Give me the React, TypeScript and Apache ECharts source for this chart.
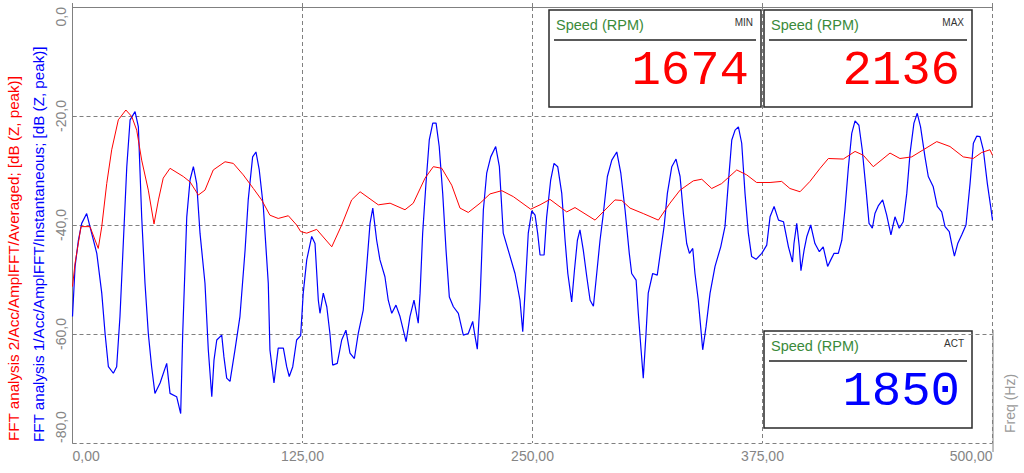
import React, { useEffect, useRef } from "react";
import * as echarts from "echarts";

const xTicks = [0, 125, 250, 375, 500];
const yTicks = [-80, -60, -40, -20, 0];

const redTitle = "FFT analysis 2/Acc/AmplFFT/Averaged; [dB (Z, peak)]";
const blueTitle = "FFT analysis 1/Acc/AmplFFT/Instantaneous; [dB (Z, peak)]";
const xTitle = "Freq (Hz)";

const redFreq = [0, 1.4, 3.2, 4.6, 9.5, 14, 15.9, 18.6, 21.3, 24.9, 29, 32.2, 34.9, 37.6, 41.2, 44.3, 46.7, 49.3, 53, 60.2, 63.9, 68.4, 72, 76.5, 82.9, 87.4, 92.8, 98.3, 102.8, 107.3, 111.8, 117.3, 121.8, 124, 127.3, 132.7, 140.9, 146.3, 151.7, 156.3, 166.2, 172.6, 180.7, 185.2, 191.6, 196.1, 200.7, 206.1, 210.6, 215.1, 221.5, 226.9, 233.3, 239.6, 249, 254.1, 259.5, 268.6, 273.1, 284, 294.8, 298.5, 303, 310.2, 318.4, 324.7, 330.2, 337.4, 342, 347.4, 352.8, 361, 366.4, 371.8, 379.1, 385.4, 389.9, 395.4, 400.8, 406.3, 410.8, 418.9, 425.3, 429.8, 435.2, 444.3, 449.7, 456.1, 462.4, 469.7, 476.9, 484.1, 489.5, 494.1, 498.6, 500];
const redDb = [-51.3, -47, -43.3, -40.3, -40.3, -44.3, -40.3, -32.4, -26.2, -20.7, -18.9, -20.1, -22.6, -28.1, -33.6, -39.8, -35.4, -31.4, -29.6, -31.1, -32.1, -34.5, -33.6, -29.9, -28.4, -28.7, -30.8, -33.3, -35.4, -38.2, -38.8, -38.3, -40, -41.2, -41.5, -40.8, -44, -40, -35.4, -33.9, -36.3, -36, -37.2, -36, -31.4, -29.3, -29.6, -32.7, -36.9, -37.7, -36, -34.3, -33.7, -34.8, -37.1, -36.3, -35.3, -37.6, -36.8, -39.1, -35.4, -35.5, -36.9, -37.9, -39.1, -36, -33.6, -31.9, -31.6, -33.3, -32.4, -29.9, -30.8, -32.2, -32.2, -32, -33.3, -33.9, -32, -29.6, -27.8, -27.9, -26.5, -27.2, -29.3, -26.8, -27.8, -27.5, -26.2, -24.7, -25.6, -27.5, -27.8, -26.7, -26.2, -27.2];

const blueFreq = [0, 1.4, 3.2, 5, 7.7, 10.4, 13.2, 15.9, 17.7, 19.5, 22.2, 24, 25.8, 27.6, 29.5, 31.3, 34, 35.8, 37.6, 39.4, 41.2, 43, 44.8, 47.6, 51.2, 53, 56.6, 58.8, 59.9, 62.1, 63.9, 65.7, 67.5, 69.3, 72, 73.8, 75.7, 76.9, 78.4, 81.1, 82.3, 83.8, 85.6, 88.3, 91, 93.8, 95.5, 97.9, 99.7, 101.5, 103.7, 106.4, 107.3, 109.5, 111.8, 114.6, 116.4, 117.8, 119.7, 121.8, 124, 125.4, 127.3, 130, 131.8, 133.6, 134.5, 136.3, 138.2, 139.9, 141.4, 143.9, 146.3, 148.6, 150.8, 153.2, 155.3, 158, 159.9, 161.7, 163.2, 165.3, 167.1, 169.8, 171.6, 173.5, 175.8, 178, 181.3, 183.4, 185.6, 187.9, 188.9, 190.3, 192.1, 193.9, 195.8, 197.6, 199.3, 201.2, 203, 204.8, 207, 209.7, 212.4, 215.1, 217.5, 218.8, 220, 221.5, 223.3, 225.1, 227.3, 230, 232, 234.1, 236.8, 240.5, 243.2, 244.7, 245.9, 247.7, 249.6, 251.4, 252.8, 254.1, 256.3, 257.7, 259.9, 261.7, 263.7, 265.9, 267.7, 269.2, 271.3, 272.8, 274.4, 275.8, 277.6, 279.5, 281.3, 283.1, 284.9, 286.7, 288.5, 290.7, 293.1, 295.8, 298, 300.3, 302.6, 303.9, 306.3, 307.5, 309, 310.2, 311.7, 312.9, 315.3, 317.8, 319.7, 321.5, 323.3, 325.7, 328, 330.2, 332, 333.8, 335.3, 337.1, 338.3, 340.1, 341.4, 342.5, 344.3, 346.5, 349.2, 352.3, 354.6, 356.4, 358.3, 360.1, 361.9, 363.7, 365.5, 367.3, 369.1, 371.5, 374.6, 377.3, 379.1, 381.3, 383.7, 386.4, 389.1, 391.3, 392.1, 393.6, 395, 395.9, 397.6, 399.1, 401.2, 403.5, 405.9, 408, 410.4, 412.1, 413.9, 416.2, 418.1, 419.8, 421.7, 423.5, 425.3, 427.4, 429.2, 431.3, 432.9, 434.7, 436.1, 437.9, 440.3, 442.5, 444.8, 447, 449.3, 451.5, 453.4, 455.2, 457.3, 459.1, 460.9, 463.3, 465.1, 467.8, 470, 472.4, 474.2, 476.5, 477.8, 479.3, 481.1, 483.3, 485.6, 487.8, 489.6, 491.4, 493.2, 495, 497.2, 499, 500];
const blueDb = [-56.8, -47.6, -42.8, -39.7, -37.9, -41.5, -45.2, -52.5, -59.9, -66, -67.2, -66, -56.8, -43.4, -29.3, -20.7, -19.2, -22, -38.5, -50.7, -59.9, -66, -70.9, -69, -65.4, -70.9, -71.5, -74.6, -59.9, -38.5, -31.7, -29.3, -32.4, -41.5, -50.7, -62.9, -71.5, -64.8, -61.1, -60.2, -64.2, -68.1, -68.7, -62.9, -56.8, -44.6, -35.4, -27.5, -26.6, -29.9, -36.6, -50.7, -62.9, -69, -62.6, -62.6, -66, -67.8, -66, -61.1, -60.3, -52.5, -46.4, -42.1, -43.4, -53.8, -56.2, -52.5, -55, -59.9, -65.7, -65.4, -61.1, -59.3, -63.5, -64.5, -59.9, -55.6, -47.6, -39.7, -36.9, -42.8, -46.4, -49.5, -53.8, -56.2, -54.7, -56.8, -61.4, -56.8, -53.8, -58, -52.5, -41.5, -32.4, -24.4, -21.3, -21.3, -25.6, -34.2, -44.6, -53.2, -55, -56.2, -60.2, -59.9, -57.7, -60.5, -62.8, -53.8, -37.2, -30.5, -27.5, -25.6, -29.3, -41.5, -44.6, -48.9, -53.8, -59.6, -52.5, -41.5, -37.4, -38.2, -41.5, -45.5, -45.5, -38.5, -31.7, -28.7, -29.3, -34.2, -42.8, -48.9, -54.1, -48.3, -42.8, -40.9, -44.6, -49.5, -53.8, -54.9, -48.9, -42.8, -37.9, -31.1, -28.1, -26.6, -30.5, -37.2, -45.2, -48.9, -50.1, -56.2, -62.9, -68.1, -59.9, -52.5, -48.9, -49.2, -44.6, -40.3, -34.2, -29.3, -27.9, -31.1, -37.9, -43.4, -45.2, -44.3, -48.9, -53.8, -58.7, -62.9, -58.7, -52.5, -47.6, -44, -40.3, -32.4, -24.4, -22.6, -22, -25, -34.2, -41.5, -45.8, -46.3, -45.2, -43.7, -38.5, -36.6, -39.1, -39.4, -44, -46.8, -43.4, -39.7, -44, -48.4, -44.6, -42.1, -40, -43.4, -44.9, -44, -47.6, -46.4, -45.2, -45.2, -42.8, -37.2, -29.3, -23.2, -20.9, -21.7, -26.2, -33.6, -39.7, -40.6, -37.9, -36.5, -35.4, -38.2, -41.8, -38.5, -40.6, -39.4, -34.2, -26.8, -21.3, -19.5, -22, -27.5, -31.1, -33, -36.6, -37.6, -40.3, -41.2, -43.4, -45.7, -43.4, -41.8, -40, -32.4, -25, -23.7, -23.8, -26.2, -32.4, -36.6, -39.1];

const gaugeLabels = ["MIN", "MAX", "ACT"];
const gaugeTitles = ["Speed (RPM)", "Speed (RPM)", "Speed (RPM)"];
const gaugeValues = ["1674", "2136", "1850"];
const gaugeColors = ["#ff0000", "#ff0000", "#0000ff"];
const gaugeBoxes = [
  [549, 10, 212],
  [764, 10, 208],
  [764, 331, 208],
];

const SANS = '"Liberation Sans", Arial, sans-serif';

function gaugeGraphic(i: number) {
  const [bx, by, bw] = gaugeBoxes[i];
  const bh = 97;
  return {
    type: "group",
    z: 100,
    children: [
      {
        type: "rect",
        shape: { x: bx, y: by, width: bw, height: bh },
        style: { fill: "#ffffff", stroke: "#2a2a2a", lineWidth: 1.5 },
      },
      {
        type: "text",
        x: bx + 7,
        y: by + 15,
        style: {
          text: gaugeTitles[i],
          fill: "#3a8a3a",
          font: "14.5px " + SANS,
          align: "left",
          verticalAlign: "middle",
        },
      },
      {
        type: "text",
        x: bx + bw - 8,
        y: by + 12,
        style: {
          text: gaugeLabels[i],
          fill: "#333333",
          font: "10px " + SANS,
          align: "right",
          verticalAlign: "middle",
        },
      },
      {
        type: "line",
        shape: { x1: bx + 5, y1: by + 30, x2: bx + bw - 5, y2: by + 30 },
        style: { stroke: "#222222", lineWidth: 1.5 },
      },
      {
        type: "text",
        x: bx + bw - 12,
        y: by + 61,
        style: {
          text: gaugeValues[i],
          fill: gaugeColors[i],
          font: '49px "Liberation Mono", "Courier New", monospace',
          align: "right",
          verticalAlign: "middle",
        },
      },
    ],
  };
}

export default function App() {
  const ref = useRef<HTMLDivElement>(null);

  useEffect(() => {
    if (!ref.current) return;
    const chart = echarts.init(ref.current, null, { renderer: "svg" });
    const redData = redFreq.map((f, i) => [f, redDb[i]]);
    const blueData = blueFreq.map((f, i) => [f, blueDb[i]]);
    const grey = "#808080";
    chart.setOption({
      animation: false,
      backgroundColor: "#ffffff",
      grid: { left: 72.5, right: 31.5, top: 7, bottom: 30 },
      xAxis: {
        type: "value",
        min: xTicks[0],
        max: xTicks[xTicks.length - 1],
        interval: xTicks[1] - xTicks[0],
        axisLine: { show: true, lineStyle: { color: grey, width: 1 } },
        axisTick: { show: true, inside: true, length: 4, lineStyle: { color: grey } },
        axisLabel: {
          color: "#858585",
          fontSize: 14,
          fontFamily: SANS,
          margin: 6,
          alignMinLabel: "left",
          alignMaxLabel: "right",
          formatter: (v: number) => v.toFixed(2).replace(".", ","),
        },
        splitLine: { show: true, lineStyle: { color: grey, type: [4, 3], width: 1 } },
      },
      yAxis: {
        type: "value",
        min: yTicks[0],
        max: yTicks[yTicks.length - 1],
        interval: yTicks[1] - yTicks[0],
        axisLine: { show: true, lineStyle: { color: grey, width: 1 } },
        axisTick: { show: true, inside: true, length: 4, lineStyle: { color: grey } },
        axisLabel: {
          color: "#858585",
          fontSize: 14,
          fontFamily: SANS,
          rotate: 90,
          margin: 5,
          alignMinLabel: "left",
          alignMaxLabel: "right",
          formatter: (v: number) => v.toFixed(1).replace(".", ","),
        },
        splitLine: { show: true, lineStyle: { color: grey, type: [4, 3], width: 1 } },
      },
      series: [
        {
          type: "line",
          data: blueData,
          showSymbol: false,
          lineStyle: { color: "#0000ff", width: 1.2 },
          itemStyle: { color: "#0000ff" },
          z: 2,
        },
        {
          type: "line",
          data: redData,
          showSymbol: false,
          lineStyle: { color: "#ff0000", width: 1 },
          itemStyle: { color: "#ff0000" },
          z: 3,
        },
      ],
      graphic: [
        {
          type: "text",
          x: 13,
          y: 441,
          rotation: Math.PI / 2,
          style: { text: redTitle, fill: "#ff0000", font: "15.2px " + SANS, align: "left", verticalAlign: "middle" },
        },
        {
          type: "text",
          x: 38,
          y: 442,
          rotation: Math.PI / 2,
          style: { text: blueTitle, fill: "#0000ff", font: "15.2px " + SANS, align: "left", verticalAlign: "middle" },
        },
        {
          type: "text",
          x: 1010,
          y: 433,
          rotation: Math.PI / 2,
          style: { text: xTitle, fill: "#9a9a9a", font: "14px " + SANS, align: "left", verticalAlign: "middle" },
        },
        {
          type: "line",
          shape: { x1: 993, y1: 330, x2: 993, y2: 452 },
          style: { stroke: grey, lineWidth: 1 },
        },
        gaugeGraphic(0),
        gaugeGraphic(1),
        gaugeGraphic(2),
      ],
    });
    return () => chart.dispose();
  }, []);

  return (
    <div
      ref={ref}
      style={{ position: "absolute", left: 0, top: 0, width: 1024, height: 473 }}
    />
  );
}
